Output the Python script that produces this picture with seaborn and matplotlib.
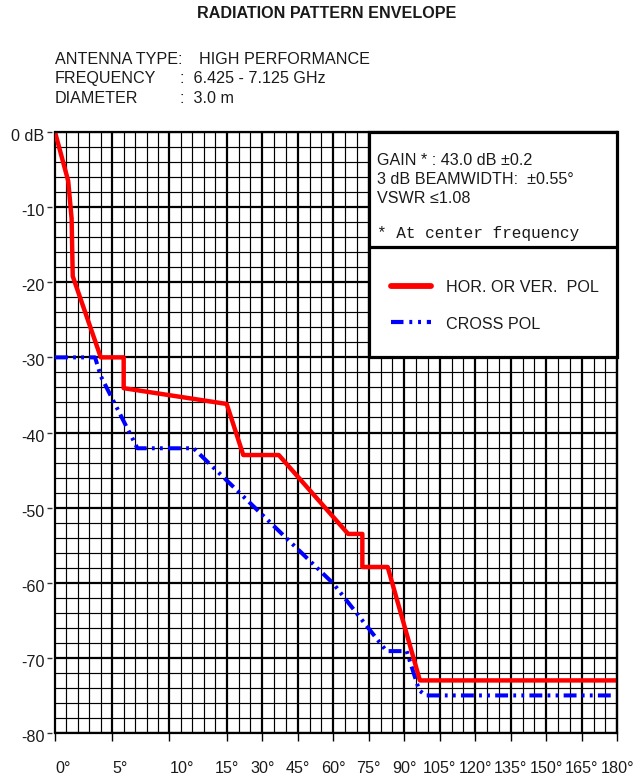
import numpy as np
import pandas as pd
import seaborn as sns
import matplotlib
matplotlib.use("Agg")
import matplotlib.pyplot as plt
from matplotlib.lines import Line2D
from matplotlib.patches import Rectangle
from matplotlib.ticker import FixedLocator
from matplotlib.transforms import ScaledTranslation

# ---- envelope data (angle in degrees, relative level in dB) ----
copol_angle = [0, 1.15, 1.45, 1.55, 4.0, 6.0, 6.0, 15, 22, 37, 66.3, 72.3, 72.3, 83, 96.6, 180]
copol_level = [0, -6.5, -11.5, -19.2, -30, -30, -34.1, -36.2, -43, -43, -53.5, -53.5, -57.9, -57.9, -73, -73]

xpol_angle = [0, 3.5, 4.0, 7.2, 12.1, 60, 82.5, 91, 96.3, 99, 180]
xpol_level = [-30, -30, -32.5, -42.1, -42.1, -60.1, -69.1, -69.1, -74.3, -75, -75]

angle_ticks = [0, 5, 10, 15, 30, 45, 60, 75, 90, 105, 120, 135, 150, 165, 180]
angle_labels = ["0°", "5°", "10°", "15°", "30°", "45°", "60°", "75°", "90°",
                "105°", "120°", "135°", "150°", "165°", "180°"]
level_ticks = [0, -10, -20, -30, -40, -50, -60, -70, -80]
level_labels = ["0 dB", "-10", "-20", "-30", "-40", "-50", "-60", "-70", "-80"]

header_keys = ["ANTENNA TYPE:", "FREQUENCY", "DIAMETER"]
header_vals = ["HIGH PERFORMANCE", ":  6.425 - 7.125 GHz", ":  3.0 m"]
spec_lines = ["GAIN * : 43.0 dB \u00b10.2", "3 dB BEAMWIDTH:  \u00b10.55°", "VSWR \u22641.08"]
legend_labels = ["HOR. OR VER.  POL", "CROSS POL"]

# ---- figure ----
sns.set_theme(style="white")
plt.rcParams["font.family"] = ["Liberation Sans", "DejaVu Sans"]
TXT = "#1a1a1a"
FS = 11.6
W, H = 638, 778
fig = plt.figure(figsize=(W / 100, H / 100), dpi=100)
ax = fig.add_axes([55 / W, 1 - 733 / H, (617.3 - 55) / W, (733 - 132) / H])

# expanded scale below 15 deg, compressed above it
K = 1.034


def fwd(a):
    a = np.asarray(a, dtype=float)
    return np.where(a <= 15, a, 15 + (a - 15) / 5 * K)


def inv(u):
    u = np.asarray(u, dtype=float)
    return np.where(u <= 15, u, 15 + (u - 15) * 5 / K)


df_co = pd.DataFrame({"angle": copol_angle, "level": copol_level})
df_x = pd.DataFrame({"angle": xpol_angle, "level": xpol_level})

sns.lineplot(data=df_co, x="angle", y="level", sort=False, estimator=None,
             color="#ff0000", linewidth=3.2, ax=ax, zorder=2.5)
sns.lineplot(data=df_x, x="angle", y="level", sort=False, estimator=None,
             color="#0000ff", linewidth=2.9, ax=ax, zorder=2.4,
             linestyle=(0, (3.2, 1.3, 0.7, 1.3, 0.7, 1.3)))

ax.set_xscale("function", functions=(fwd, inv))
ax.set_xlim(0, 180)
ax.set_ylim(-80, 0)
ax.set_xlabel("")
ax.set_ylabel("")

ax.xaxis.set_major_locator(FixedLocator(angle_ticks))
ax.xaxis.set_minor_locator(FixedLocator(list(range(0, 16)) + list(range(20, 181, 5))))
ax.yaxis.set_major_locator(FixedLocator(level_ticks))
ax.yaxis.set_minor_locator(FixedLocator(list(range(-80, 1, 2))))
ax.set_xticks(angle_ticks)
ax.set_xticklabels(angle_labels)
ax.set_yticks(level_ticks)
ax.set_yticklabels(level_labels)

ax.grid(which="major", color="black", linewidth=1.6)
ax.grid(which="minor", color="black", linewidth=0.85)
for gl in ax.get_xgridlines() + ax.get_ygridlines():
    gl.set_clip_on(False)

ax.tick_params(axis="x", which="major", direction="out", length=6, width=1,
               color="black", pad=14, labelsize=FS, labelcolor=TXT, bottom=True)
ax.tick_params(axis="y", which="major", direction="out", length=3.5, width=1,
               color="#333333", pad=2, labelsize=FS, labelcolor=TXT, left=True)
ax.tick_params(which="minor", length=0)
ax.spines["left"].set_position(("outward", 2.2))
ax.spines["left"].set_visible(False)
for s in ["top", "right", "bottom"]:
    ax.spines[s].set_color("black")
    ax.spines[s].set_linewidth(1.6)

for i, lbl in enumerate(ax.get_xticklabels()):
    if i < 3:
        lbl.set_horizontalalignment("left")
shift = ScaledTranslation(0, -3 / 100, fig.dpi_scale_trans)
for lbl in ax.get_yticklabels():
    lbl.set_transform(lbl.get_transform() + shift)

# specification / legend box over the upper right of the grid
ax.add_patch(Rectangle((75, -30), 105, 30, facecolor="white", edgecolor="black",
                       linewidth=2.3, zorder=3, clip_on=False))
ax.plot([75, 180], [-15.3, -15.3], color="black", linewidth=2.3, zorder=4,
        solid_capstyle="butt", clip_on=False)


def fx(px):
    return px / W


def fy(py):
    return 1 - py / H


# titles and header block
fig.text(fx(197), fy(18.3), "RADIATION PATTERN ENVELOPE", fontsize=FS,
         fontweight="bold", color=TXT, ha="left", va="baseline")
for key, yb in zip(header_keys, [64, 83.3, 102.7]):
    fig.text(fx(55), fy(yb), key, fontsize=FS, color=TXT, ha="left", va="baseline")
fig.text(fx(199), fy(64), header_vals[0], fontsize=FS, color=TXT, ha="left", va="baseline")
fig.text(fx(180), fy(83.3), header_vals[1], fontsize=FS, color=TXT, ha="left", va="baseline")
fig.text(fx(180), fy(102.7), header_vals[2], fontsize=FS, color=TXT, ha="left", va="baseline")

for line, yb in zip(spec_lines, [165, 184, 202.7]):
    fig.text(fx(376.7), fy(yb), line, fontsize=FS, color=TXT, ha="left",
             va="baseline", zorder=5)
fig.text(fx(377), fy(238.3), "* At center frequency", fontsize=FS, color=TXT,
         family=["Liberation Mono", "DejaVu Sans Mono"], ha="left", va="baseline", zorder=5)

# legend entries
fig.add_artist(Line2D([fx(391), fx(431)], [fy(285.7), fy(285.7)], color="#ff0000",
                      linewidth=4.2, solid_capstyle="round", zorder=5))
fig.add_artist(Line2D([fx(391), fx(431)], [fy(322.3), fy(322.3)], color="#0000ff",
                      linewidth=3.0, linestyle=(0, (3.0, 1.4, 0.7, 1.4, 0.7, 1.4)), zorder=5))
fig.text(fx(446), fy(292.3), legend_labels[0], fontsize=FS, color=TXT,
         ha="left", va="baseline", zorder=5)
fig.text(fx(446), fy(329.3), legend_labels[1], fontsize=FS, color=TXT,
         ha="left", va="baseline", zorder=5)

fig.savefig("out.png", dpi=100, facecolor="white")
